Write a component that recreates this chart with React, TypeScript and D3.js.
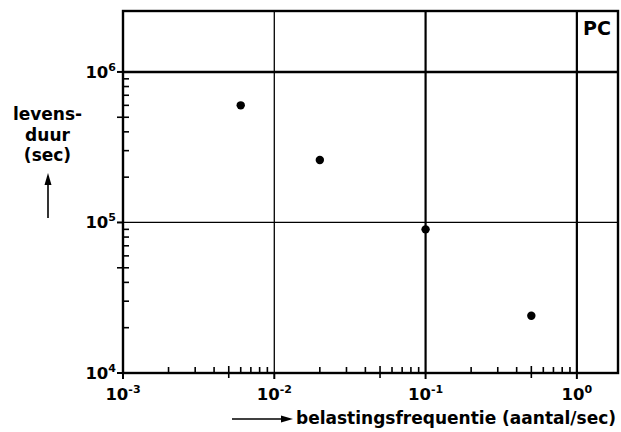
import { useEffect, useRef } from "react";
import * as d3 from "d3";

// gemeten waarden (belastingsfrequentie in aantal/sec, levensduur in sec)
const frequencies = [0.006, 0.02, 0.1, 0.5];
const lifetimes = [6.0e5, 2.6e5, 9.0e4, 2.4e4];

// decades op de assen (exponenten)
const xTickExponents = [-3, -2, -1, 0];
const yTickExponents = [4, 5, 6];

// rasterlijnen
const thinGridX = [0.01];
const thickGridX = [0.1, 1];
const thinGridY = [1e5];
const thickGridY = [1e6];

const xTitle = "belastingsfrequentie (aantal/sec)";
const yTitleLines = ["levens-", "duur", "(sec)"];
const cornerLabel = "PC";

const FONT = "'DejaVu Sans', Verdana, sans-serif";

export default function App() {
  const svgRef = useRef<SVGSVGElement>(null);

  useEffect(() => {
    if (!svgRef.current) return;
    const svg = d3.select(svgRef.current);
    svg.selectAll("*").remove();

    const left = 123, right = 618, top = 11, bottom = 373;

    const x = d3.scaleLog().domain([1e-3, 1.87]).range([left, right]);
    const y = d3.scaleLog().domain([1e4, 2.54e6]).range([bottom, top]);

    const g = svg.append("g");

    // minor ticks (2..9 per decade)
    const xMinor: number[] = [];
    xTickExponents.forEach(e => {
      for (let k = 2; k <= 9; k++) {
        const v = k * Math.pow(10, e);
        if (v < 1.87) xMinor.push(v);
      }
    });
    const yMinor: number[] = [];
    yTickExponents.forEach(e => {
      for (let k = 2; k <= 9; k++) {
        const v = k * Math.pow(10, e);
        if (v < 1e6) yMinor.push(v);
      }
    });

    g.selectAll("line.xminor")
      .data(xMinor)
      .join("line")
      .attr("x1", d => x(d))
      .attr("x2", d => x(d))
      .attr("y1", d => (Math.abs(d / Math.pow(10, Math.floor(Math.log10(d) + 1e-9)) - 5) < 0.01 ? bottom + 5 : bottom))
      .attr("y2", d => (Math.abs(d / Math.pow(10, Math.floor(Math.log10(d) + 1e-9)) - 5) < 0.01 ? bottom - 7 : bottom - 6))
      .attr("stroke", "#000")
      .attr("stroke-width", 1.6);

    g.selectAll("line.yminor")
      .data(yMinor)
      .join("line")
      .attr("y1", d => y(d))
      .attr("y2", d => y(d))
      .attr("x1", d => (Math.abs(d / Math.pow(10, Math.floor(Math.log10(d) + 1e-9)) - 5) < 0.01 ? left - 6 : left))
      .attr("x2", left + 6)
      .attr("stroke", "#000")
      .attr("stroke-width", 1.6);

    // major ticks outward
    g.selectAll("line.xmajor")
      .data(xTickExponents)
      .join("line")
      .attr("x1", d => x(Math.pow(10, d)))
      .attr("x2", d => x(Math.pow(10, d)))
      .attr("y1", bottom)
      .attr("y2", bottom + 6)
      .attr("stroke", "#000")
      .attr("stroke-width", 2);

    g.selectAll("line.ymajor")
      .data(yTickExponents)
      .join("line")
      .attr("y1", d => y(Math.pow(10, d)))
      .attr("y2", d => y(Math.pow(10, d)))
      .attr("x1", left - 6)
      .attr("x2", left)
      .attr("stroke", "#000")
      .attr("stroke-width", 2);

    // rasterlijnen
    const vGrid = (vals: number[], w: number) =>
      g.append("g").selectAll("line")
        .data(vals)
        .join("line")
        .attr("x1", d => x(d)).attr("x2", d => x(d))
        .attr("y1", top).attr("y2", bottom)
        .attr("stroke", "#000").attr("stroke-width", w);
    const hGrid = (vals: number[], w: number) =>
      g.append("g").selectAll("line")
        .data(vals)
        .join("line")
        .attr("y1", d => y(d)).attr("y2", d => y(d))
        .attr("x1", left).attr("x2", right)
        .attr("stroke", "#000").attr("stroke-width", w);
    vGrid(thinGridX, 1.3);
    vGrid(thickGridX, 2.2);
    hGrid(thinGridY, 1.2);
    hGrid(thickGridY, 2.6);

    // kader
    g.append("rect")
      .attr("x", left).attr("y", top)
      .attr("width", right - left).attr("height", bottom - top)
      .attr("fill", "none").attr("stroke", "#000").attr("stroke-width", 2.4);

    // meetpunten
    g.selectAll("circle")
      .data(frequencies.map((f, i) => ({ f, l: lifetimes[i] })))
      .join("circle")
      .attr("cx", d => x(d.f))
      .attr("cy", d => y(d.l))
      .attr("r", 4.2)
      .attr("fill", "#000");

    // y-labels 10^n
    const yl = g.selectAll("text.ylab")
      .data(yTickExponents)
      .join("text")
      .attr("x", 116)
      .attr("y", d => y(Math.pow(10, d)) + 6)
      .attr("text-anchor", "end")
      .style("font-family", FONT)
      .style("font-weight", "bold")
      .style("font-size", "16.5px");
    yl.append("tspan").text("10");
    yl.append("tspan").attr("dy", -7).style("font-size", "11px").text(d => String(d));

    // x-labels 10^n
    const xl = g.selectAll("text.xlab")
      .data(xTickExponents)
      .join("text")
      .attr("x", d => x(Math.pow(10, d)))
      .attr("y", 400)
      .attr("text-anchor", "middle")
      .style("font-family", FONT)
      .style("font-weight", "bold")
      .style("font-size", "16.5px");
    xl.append("tspan").text("10");
    xl.append("tspan").attr("dy", -7).style("font-size", "11px").text(d => String(d));

    // PC
    g.append("text")
      .attr("x", 583).attr("y", 35)
      .style("font-family", FONT)
      .style("font-weight", "bold")
      .style("font-size", "19px")
      .text(cornerLabel);

    // y-titel
    g.selectAll("text.ytitle")
      .data(yTitleLines)
      .join("text")
      .attr("x", 47.5)
      .attr("y", (d, i) => 120 + i * 20.5)
      .attr("text-anchor", "middle")
      .style("font-family", FONT)
      .style("font-weight", "bold")
      .style("font-size", "17px")
      .text(d => d);

    // pijl omhoog
    g.append("line")
      .attr("x1", 48).attr("x2", 48).attr("y1", 218).attr("y2", 182)
      .attr("stroke", "#000").attr("stroke-width", 1.6);
    g.append("path")
      .attr("d", "M48,173 L44.5,185 L51.5,185 Z")
      .attr("fill", "#000");

    // x-titel met pijl
    g.append("line")
      .attr("x1", 232).attr("x2", 284).attr("y1", 419).attr("y2", 419)
      .attr("stroke", "#000").attr("stroke-width", 1.6);
    g.append("path")
      .attr("d", "M293,419 L281,415.5 L281,422.5 Z")
      .attr("fill", "#000");
    g.append("text")
      .attr("x", 296).attr("y", 424)
      .style("font-family", FONT)
      .style("font-weight", "bold")
      .style("font-size", "17px")
      .text(xTitle);
  }, []);

  return (
    <div style={{ position: "absolute", left: 0, top: 0 }}>
      <svg
        ref={svgRef}
        width={621}
        height={432}
        viewBox="0 0 621 432"
        style={{ display: "block", background: "#fff" }}
      />
    </div>
  );
}
